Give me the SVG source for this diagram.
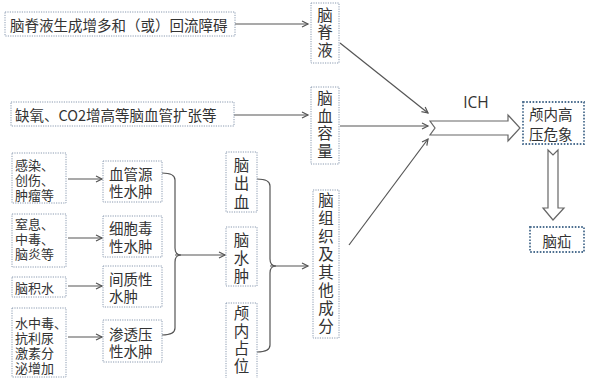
<svg xmlns="http://www.w3.org/2000/svg" width="592" height="378" viewBox="0 0 592 378">
<defs>
<marker id="arr" markerUnits="userSpaceOnUse" markerWidth="10" markerHeight="10" refX="7" refY="4" orient="auto">
<path d="M1,1 L7,4 L1,7" fill="none" stroke="#555" stroke-width="1.2"/>
</marker>
<style>
.box{fill:#fff;stroke:#8a9ab0;stroke-width:1;stroke-dasharray:1.2,1.2}
.bbox{fill:#fff;stroke:#4d6f90;stroke-width:1.8;stroke-dasharray:1.6,1.6}
.t{font-family:"Noto Sans CJK SC","Microsoft YaHei",sans-serif;fill:#333;font-size:14.5px;dominant-baseline:central}
.s{font-size:13px}
.v{font-family:"Noto Sans CJK SC","Microsoft YaHei",sans-serif;fill:#333;font-size:15.5px;writing-mode:vertical-rl;text-orientation:upright}
.c{text-anchor:middle}
.ln{fill:none;stroke:#555;stroke-width:1.2}
.big{fill:#fff;stroke:#666;stroke-width:1.2}
</style>
</defs>
<rect width="592" height="378" fill="#fff"/>

<g id="connectors">
<path class="ln" d="M235,24 H308" marker-end="url(#arr)"/>
<path class="ln" d="M234,115 H308" marker-end="url(#arr)"/>
<path class="ln" d="M340,43 L428,113" marker-end="url(#arr)"/>
<path class="ln" d="M340,126 H428" marker-end="url(#arr)"/>
<path class="ln" d="M349,245 L428,139" marker-end="url(#arr)"/>
<path class="ln" d="M68,179 H102" marker-end="url(#arr)"/>
<path class="ln" d="M68,238 H102" marker-end="url(#arr)"/>
<path class="ln" d="M68,286 H102" marker-end="url(#arr)"/>
<path class="ln" d="M68,337 H102" marker-end="url(#arr)"/>
<path class="ln" d="M162,173 Q175,173 175,180 V248 Q175,255 181,255 Q175,255 175,262 V328 Q175,335 162,335"/>
<path class="ln" d="M175,255 H225" marker-end="url(#arr)"/>
<path class="ln" d="M257,179 Q270,179 270,186 V259 Q270,266 276,266 Q270,266 270,273 V345 Q270,352 257,352"/>
<path class="ln" d="M270,266 H308" marker-end="url(#arr)"/>
<polygon class="big" points="430,121 508,121 508,115 520,128 508,141 508,135 430,135 435,128"/>
<polygon class="big" points="548,150 553,155 558,150 558,208 564,208 553,220 543,208 548,208"/>
</g>
<text class="t" x="476" y="102" style="font-family:'Open Sans','Liberation Sans',sans-serif;font-size:15.5px;text-anchor:middle">ICH</text>

<g id="n-csf-cause"><rect class="box" x="5" y="12" width="230" height="24"/><text class="t" x="10" y="24">脑脊液生成增多和（或）回流障碍</text></g>
<g id="n-vessel-cause"><rect class="box" x="11" y="102" width="223" height="24"/><text class="t" x="15" y="114">缺氧、CO2增高等脑血管扩张等</text></g>
<g id="n-csf"><rect class="box" x="311" y="3" width="28" height="60"/><text class="v" x="325" y="7.25" style="letter-spacing:2px">脑脊液</text></g>
<g id="n-cbv"><rect class="box" x="311" y="87" width="28" height="77"/><text class="v" x="325" y="90.25" style="letter-spacing:2.2px">脑血容量</text></g>
<g id="n-tissue"><rect class="box" x="313" y="190" width="26" height="148"/><text class="v" x="326" y="192.25" style="letter-spacing:2.5px">脑组织及其他成分</text></g>
<g id="n-ich"><rect class="bbox" x="523" y="102" width="61" height="42"/><text class="t" x="529" y="113">颅内高<tspan x="529" dy="20">压危象</tspan></text></g>
<g id="n-hernia"><rect class="bbox" x="530" y="227" width="54" height="25"/><text class="t c" x="557" y="240">脑疝</text></g>

<g id="n-c1"><rect class="box" x="12" y="153" width="54" height="50"/><text class="t s" x="15" y="164">感染、<tspan x="15" dy="15">创伤、</tspan><tspan x="15" dy="15">肿瘤等</tspan></text></g>
<g id="n-c2"><rect class="box" x="12" y="214" width="54" height="53"/><text class="t s" x="15" y="223">窒息、<tspan x="15" dy="15">中毒、</tspan><tspan x="15" dy="15">脑炎等</tspan></text></g>
<g id="n-c3"><rect class="box" x="12" y="277" width="54" height="20"/><text class="t s" x="15" y="287">脑积水</text></g>
<g id="n-c4"><rect class="box" x="12" y="308" width="54" height="69"/><text class="t s" x="15" y="322">水中毒、<tspan x="15" dy="15">抗利尿</tspan><tspan x="15" dy="15">激素分</tspan><tspan x="15" dy="15">泌增加</tspan></text></g>

<g id="n-e1"><rect class="box" x="103" y="161" width="59" height="41"/><text class="t" x="109" y="173">血管源<tspan x="109" dy="17">性水肿</tspan></text></g>
<g id="n-e2"><rect class="box" x="103" y="216" width="59" height="41"/><text class="t" x="109" y="227">细胞毒<tspan x="109" dy="18">性水肿</tspan></text></g>
<g id="n-e3"><rect class="box" x="103" y="266" width="59" height="41"/><text class="t" x="109" y="278">间质性<tspan x="109" dy="17">水肿</tspan></text></g>
<g id="n-e4"><rect class="box" x="103" y="320" width="59" height="42"/><text class="t" x="109" y="333">渗透压<tspan x="109" dy="17">性水肿</tspan></text></g>

<g id="n-hem"><rect class="box" x="226" y="152" width="31" height="60"/><text class="v" x="241.5" y="157.25" style="letter-spacing:3px">脑出血</text></g>
<g id="n-edema"><rect class="box" x="226" y="227" width="31" height="59"/><text class="v" x="241.5" y="232.25" style="letter-spacing:2.5px">脑水肿</text></g>
<g id="n-mass"><rect class="box" x="226" y="303" width="31" height="80"/><text class="v" x="241.5" y="305.25" style="letter-spacing:2.2px">颅内占位</text></g>
</svg>
